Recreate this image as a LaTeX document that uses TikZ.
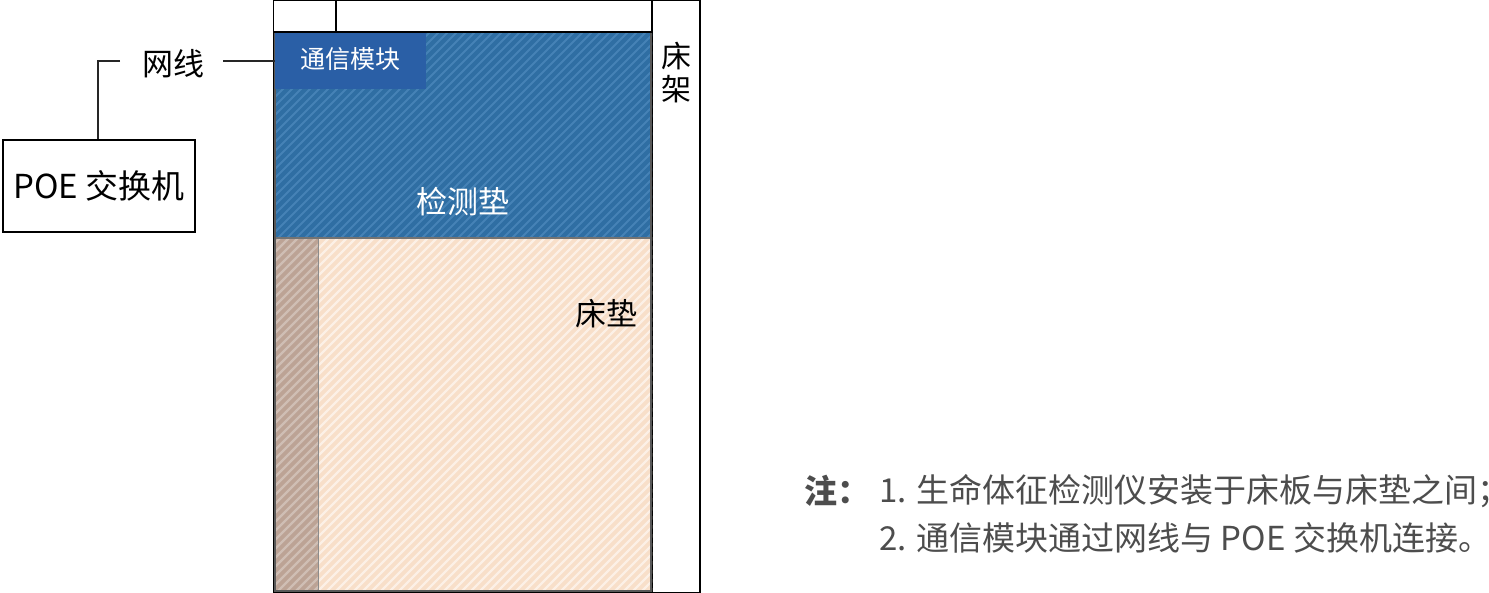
\documentclass[tikz,border=0pt]{standalone}
\usepackage{fontspec}
\setmainfont{Noto Sans CJK SC}
\begin{document}
\begin{tikzpicture}[x=1pt,y=-1pt,
  lbl/.style={inner sep=0pt,font=\fontsize{31}{34}\selectfont},
  frame/.style={draw=black,line width=1.2pt},
  wire/.style={draw=black!85,line width=1.2pt}]
\definecolor{matblue}{HTML}{2F6EA3}
\definecolor{matstripe}{HTML}{4682B6}
\definecolor{modblue}{HTML}{2A5FA6}
\definecolor{peach}{HTML}{F8DFC9}
\definecolor{peachstripe}{HTML}{FCF0E6}
\definecolor{tan}{HTML}{BCA395}
\definecolor{tanstripe}{HTML}{CFBEB4}
\definecolor{notegray}{HTML}{4D4D4D}
\useasboundingbox (0,0) rectangle (1489,593);
% bed frame
\draw[frame] (273.5,0.6) rectangle (700,592.4);
\draw[frame] (652,0.6) -- (652,592.4);
\draw[frame] (336,0.6) -- (336,32);
% detection mat (blue)
\fill[matblue] (275,32) rectangle (652,238);
\begin{scope}
  \clip (275,32) rectangle (652,238);
  \foreach \c in {300,309,...,1260}{\draw[matstripe,line width=1.8pt] (\c-600,600) -- (\c,0);}
\end{scope}
% mattress
\fill[peach] (318,238) rectangle (652,591);
\fill[tan] (275,238) rectangle (318,591);
\begin{scope}
  \clip (318,238) rectangle (652,591);
  \foreach \c in {540,549,...,1260}{\draw[peachstripe,line width=2.4pt] (\c-600,600) -- (\c,0);}
\end{scope}
\begin{scope}
  \clip (275,238) rectangle (318,591);
  \foreach \c in {500,509,...,920}{\draw[tanstripe,line width=2.4pt] (\c-600,600) -- (\c,0);}
\end{scope}
\draw[black!45,line width=0.8pt] (318,238) -- (318,591);
\draw[black!55,line width=1.2pt] (275,238) -- (652,238);
\draw[black!65,line width=2pt] (275,32) rectangle (651,590.5);
\draw[frame] (273.5,32) -- (652,32);
% communication module
\node[fill=modblue,minimum width=151pt,minimum height=56pt,inner sep=0pt,anchor=north west] (mod) at (275,33) {};
\node[lbl,text=white,font=\fontsize{25}{27}\selectfont] (modt) at (350,59) {通信模块};
% labels
\node[lbl,text=white] (mat) at (463,202) {检测垫};
\node[lbl] (mattress) at (606,314) {床垫};
\node[lbl,align=center,font=\fontsize{30}{33}\selectfont] (bedframe) at (676,73) {床\\架};
% network cable
\node[lbl] (cable) at (173,64) {网线};
\node[draw=black,line width=1.1pt,minimum width=192pt,minimum height=92pt,inner sep=0pt,font=\fontsize{33}{35}\selectfont] (poe) at (99,186) {POE 交换机};
\coordinate (c1) at (223,61);
\coordinate (c2) at (120,61);
\coordinate (c3) at (98,61);
\draw[wire] (c1) -- (mod.west |- c1);
\draw[wire] (c2) -- (c3) -- (c3 |- poe.north);
% notes
\node[inner sep=0pt,anchor=west,text=notegray,font=\fontsize{33}{35}\selectfont\bfseries] (note) at (804,491) {注：};
\node[inner sep=0pt,anchor=west,text=notegray,font=\fontsize{33}{35}\selectfont] (n1) at (879,491) {1. 生命体征检测仪安装于床板与床垫之间；};
\node[inner sep=0pt,anchor=west,text=notegray,font=\fontsize{33}{35}\selectfont] (n2) at (879,538) {2. 通信模块通过网线与 POE 交换机连接。};
\end{tikzpicture}
\end{document}
